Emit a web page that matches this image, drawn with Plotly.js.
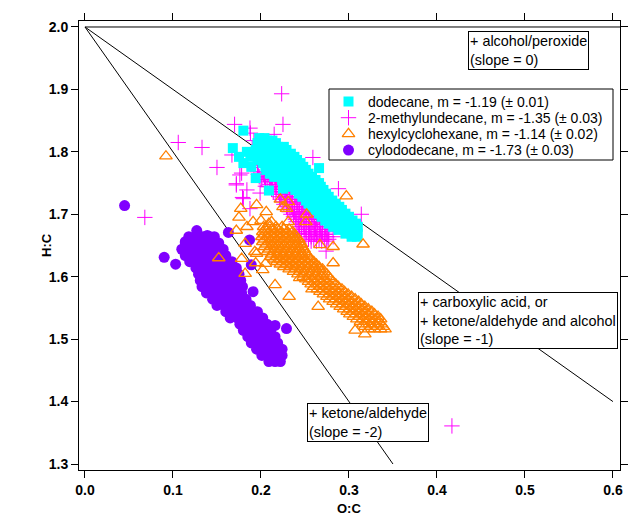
<!DOCTYPE html>
<html>
<head>
<meta charset="utf-8">
<script src="https://cdn.plot.ly/plotly-3.0.1.min.js"></script>
<style>html,body{margin:0;padding:0;background:#fff;}#chart{width:628px;height:519px;}</style>
</head>
<body>
<div id="chart"></div>
<script>
// ---- Data ----
const seriesNames = [
  "dodecane, m = -1.19 (± 0.01)",
  "2-methylundecane, m = -1.35 (± 0.03)",
  "hexylcyclohexane, m = -1.14 (± 0.02)",
  "cylododecane, m = -1.73 (± 0.03)"
];
const seriesColors = ["#00FFFF", "#FF00FF", "#FF8000", "#8000FF"];

const dodecanePts = [
  [0.198,1.822],[0.204,1.822],
  [0.200,1.818],[0.207,1.818],[0.213,1.818],
  [0.196,1.814],[0.203,1.814],[0.210,1.814],[0.217,1.814],
  [0.198,1.808],[0.205,1.808],[0.212,1.808],[0.219,1.808],[0.226,1.808],
  [0.194,1.803],[0.201,1.803],[0.208,1.803],[0.215,1.803],[0.222,1.803],[0.229,1.803],
  [0.199,1.797],[0.206,1.797],[0.213,1.797],[0.220,1.797],[0.227,1.797],[0.234,1.797],
  [0.196,1.792],[0.203,1.792],[0.210,1.792],[0.217,1.792],[0.224,1.792],[0.231,1.792],[0.238,1.792],
  [0.199,1.787],[0.206,1.787],[0.213,1.787],[0.220,1.787],[0.227,1.787],[0.234,1.787],[0.241,1.787],
  [0.202,1.782],[0.209,1.782],[0.216,1.782],[0.223,1.782],[0.230,1.782],[0.237,1.782],[0.245,1.782],
  [0.205,1.776],[0.212,1.776],[0.219,1.776],[0.226,1.776],[0.233,1.776],[0.240,1.776],[0.248,1.776],
  [0.206,1.771],[0.213,1.771],[0.220,1.771],[0.227,1.771],[0.234,1.771],[0.241,1.771],[0.251,1.771],
  [0.210,1.765],[0.217,1.765],[0.224,1.765],[0.231,1.765],[0.238,1.765],[0.245,1.765],[0.254,1.765],
  [0.215,1.760],[0.220,1.760],[0.227,1.760],[0.234,1.760],[0.241,1.760],[0.248,1.760],[0.258,1.760],
  [0.224,1.755],[0.231,1.755],[0.238,1.755],[0.245,1.755],[0.252,1.755],[0.262,1.755],
  [0.228,1.750],[0.235,1.750],[0.242,1.750],[0.249,1.750],[0.256,1.750],[0.266,1.750],
  [0.234,1.744],[0.241,1.744],[0.248,1.744],[0.255,1.744],[0.262,1.744],[0.268,1.744],
  [0.239,1.739],[0.246,1.739],[0.253,1.739],[0.260,1.739],[0.271,1.739],
  [0.243,1.733],[0.250,1.733],[0.257,1.733],[0.264,1.733],[0.274,1.733],
  [0.247,1.728],[0.254,1.728],[0.261,1.728],[0.268,1.728],[0.277,1.728],
  [0.251,1.722],[0.258,1.722],[0.265,1.722],[0.272,1.722],[0.281,1.722],
  [0.254,1.717],[0.261,1.717],[0.268,1.717],[0.275,1.717],[0.285,1.717],
  [0.258,1.712],[0.265,1.712],[0.272,1.712],[0.279,1.712],[0.289,1.712],
  [0.262,1.707],[0.269,1.707],[0.276,1.707],[0.283,1.707],[0.292,1.707],
  [0.266,1.701],[0.273,1.701],[0.280,1.701],[0.287,1.701],[0.296,1.701],
  [0.269,1.696],[0.276,1.696],[0.283,1.696],[0.290,1.696],[0.300,1.696],
  [0.273,1.690],[0.280,1.690],[0.287,1.690],[0.294,1.690],[0.304,1.690],
  [0.277,1.685],[0.284,1.685],[0.291,1.685],[0.298,1.685],[0.308,1.685],
  [0.282,1.680],[0.289,1.680],[0.296,1.680],[0.303,1.680],[0.310,1.680],
  [0.288,1.675],[0.295,1.675],[0.302,1.675],[0.309,1.675],
  [0.296,1.669],[0.303,1.669],[0.310,1.669],
  [0.303,1.664],[0.309,1.664],
  [0.180,1.834],[0.168,1.806],[0.175,1.792],[0.184,1.800],[0.180,1.782],[0.189,1.776],
  [0.194,1.758],[0.209,1.738],[0.266,1.774],[0.225,1.741],[0.188,1.792]
];

const methylundecanePts = [
  [0.196,1.768],[0.202,1.768],
  [0.197,1.764],[0.203,1.764],[0.209,1.764],
  [0.198,1.760],[0.204,1.760],[0.210,1.760],
  [0.201,1.756],[0.207,1.756],[0.213,1.756],[0.219,1.756],
  [0.205,1.752],[0.211,1.752],[0.217,1.752],[0.223,1.752],
  [0.210,1.748],[0.216,1.748],[0.222,1.748],[0.228,1.748],
  [0.216,1.744],[0.222,1.744],[0.228,1.744],[0.234,1.744],
  [0.218,1.740],[0.224,1.740],[0.230,1.740],[0.236,1.740],
  [0.220,1.736],[0.226,1.736],[0.232,1.736],[0.238,1.736],
  [0.223,1.732],[0.229,1.732],[0.235,1.732],[0.241,1.732],
  [0.227,1.728],[0.233,1.728],[0.239,1.728],[0.245,1.728],
  [0.228,1.724],[0.234,1.724],[0.240,1.724],[0.246,1.724],[0.251,1.724],
  [0.230,1.720],[0.236,1.720],[0.242,1.720],[0.248,1.720],[0.254,1.720],
  [0.232,1.716],[0.238,1.716],[0.244,1.716],[0.250,1.716],[0.256,1.716],
  [0.235,1.712],[0.241,1.712],[0.247,1.712],[0.253,1.712],[0.259,1.712],
  [0.236,1.708],[0.242,1.708],[0.248,1.708],[0.254,1.708],[0.260,1.708],
  [0.238,1.704],[0.244,1.704],[0.250,1.704],[0.256,1.704],[0.262,1.704],
  [0.240,1.700],[0.246,1.700],[0.252,1.700],[0.258,1.700],[0.264,1.700],
  [0.243,1.696],[0.249,1.696],[0.255,1.696],[0.261,1.696],[0.267,1.696],
  [0.245,1.692],[0.251,1.692],[0.257,1.692],[0.263,1.692],[0.268,1.692],
  [0.246,1.688],[0.252,1.688],[0.258,1.688],[0.264,1.688],[0.270,1.688],
  [0.248,1.684],[0.254,1.684],[0.260,1.684],[0.266,1.684],[0.272,1.684],
  [0.249,1.680],[0.255,1.680],[0.261,1.680],[0.267,1.680],[0.273,1.680],
  [0.250,1.676],[0.256,1.676],[0.262,1.676],[0.268,1.676],[0.274,1.676],
  [0.252,1.672],[0.258,1.672],[0.264,1.672],[0.270,1.672],[0.276,1.672],
  [0.255,1.668],[0.261,1.668],[0.267,1.668],[0.273,1.668],[0.277,1.668],
  [0.257,1.664],[0.263,1.664],[0.269,1.664],[0.275,1.664],
  [0.260,1.660],[0.266,1.660],[0.272,1.660],[0.277,1.660],
  [0.263,1.657],[0.269,1.657],[0.275,1.657],
  [0.210,1.744],[0.212,1.740],[0.214,1.736],[0.217,1.732],[0.221,1.728],[0.222,1.724],
  [0.224,1.720],[0.226,1.716],[0.229,1.712],[0.230,1.708],[0.232,1.704],[0.234,1.700],
  [0.237,1.696],[0.239,1.692],[0.240,1.688],[0.242,1.684],[0.243,1.680],[0.244,1.676],
  [0.246,1.672],[0.249,1.668],[0.251,1.664],[0.254,1.660],[0.257,1.657],
  [0.188,1.830],[0.192,1.818],[0.190,1.805],[0.195,1.790],[0.192,1.775],[0.185,1.787],
  [0.200,1.755],[0.205,1.745],
  [0.2235,1.893],[0.106,1.815],[0.133,1.807],[0.150,1.775],[0.170,1.844],[0.1875,1.838],
  [0.225,1.844],[0.215,1.828],[0.259,1.791],[0.288,1.741],[0.314,1.700],[0.167,1.795],
  [0.172,1.747],[0.180,1.725],[0.1875,1.709],[0.176,1.763],[0.184,1.739],[0.068,1.695],
  [0.178,1.766],[0.417,1.361],[0.274,1.641],[0.282,1.664],[0.2435,1.669],[0.179,1.727],
  [0.199,1.734],[0.267,1.667],[0.172,1.749]
];

const hexylcyclohexanePts = [
  [0.203,1.680],[0.210,1.680],[0.217,1.680],[0.224,1.680],
  [0.205,1.676],[0.212,1.676],[0.219,1.676],[0.226,1.676],[0.232,1.676],
  [0.202,1.672],[0.209,1.672],[0.216,1.672],[0.223,1.672],[0.230,1.672],[0.236,1.672],
  [0.204,1.668],[0.211,1.668],[0.218,1.668],[0.225,1.668],[0.232,1.668],[0.238,1.668],
  [0.201,1.664],[0.208,1.664],[0.215,1.664],[0.222,1.664],[0.229,1.664],[0.236,1.664],[0.240,1.664],
  [0.204,1.660],[0.211,1.660],[0.218,1.660],[0.225,1.660],[0.232,1.660],[0.239,1.660],[0.243,1.660],
  [0.202,1.656],[0.209,1.656],[0.216,1.656],[0.223,1.656],[0.230,1.656],[0.237,1.656],[0.244,1.656],
  [0.206,1.652],[0.213,1.652],[0.220,1.652],[0.227,1.652],[0.234,1.652],[0.241,1.652],[0.246,1.652],
  [0.204,1.648],[0.211,1.648],[0.218,1.648],[0.225,1.648],[0.232,1.648],[0.239,1.648],[0.247,1.648],
  [0.209,1.644],[0.216,1.644],[0.223,1.644],[0.230,1.644],[0.237,1.644],[0.244,1.644],[0.249,1.644],
  [0.207,1.640],[0.214,1.640],[0.221,1.640],[0.228,1.640],[0.235,1.640],[0.242,1.640],[0.250,1.640],
  [0.212,1.636],[0.219,1.636],[0.226,1.636],[0.233,1.636],[0.240,1.636],[0.247,1.636],[0.252,1.636],
  [0.211,1.632],[0.218,1.632],[0.225,1.632],[0.232,1.632],[0.239,1.632],[0.246,1.632],[0.254,1.632],
  [0.215,1.628],[0.222,1.628],[0.229,1.628],[0.236,1.628],[0.243,1.628],[0.250,1.628],[0.257,1.628],
  [0.218,1.624],[0.225,1.624],[0.232,1.624],[0.239,1.624],[0.246,1.624],[0.253,1.624],[0.260,1.624],
  [0.222,1.620],[0.229,1.620],[0.236,1.620],[0.243,1.620],[0.250,1.620],[0.257,1.620],[0.263,1.620],
  [0.226,1.616],[0.233,1.616],[0.240,1.616],[0.247,1.616],[0.254,1.616],[0.261,1.616],[0.266,1.616],
  [0.232,1.612],[0.239,1.612],[0.246,1.612],[0.253,1.612],[0.260,1.612],[0.267,1.612],[0.270,1.612],
  [0.237,1.608],[0.244,1.608],[0.251,1.608],[0.258,1.608],[0.265,1.608],[0.272,1.608],
  [0.242,1.604],[0.249,1.604],[0.256,1.604],[0.263,1.604],[0.270,1.604],[0.275,1.604],
  [0.248,1.600],[0.255,1.600],[0.262,1.600],[0.269,1.600],[0.277,1.600],
  [0.251,1.596],[0.258,1.596],[0.265,1.596],[0.272,1.596],[0.279,1.596],
  [0.254,1.592],[0.261,1.592],[0.268,1.592],[0.275,1.592],[0.282,1.592],
  [0.257,1.588],[0.264,1.588],[0.271,1.588],[0.278,1.588],[0.285,1.588],
  [0.260,1.584],[0.267,1.584],[0.274,1.584],[0.281,1.584],[0.288,1.584],
  [0.264,1.580],[0.271,1.580],[0.278,1.580],[0.285,1.580],[0.292,1.580],
  [0.267,1.576],[0.274,1.576],[0.281,1.576],[0.288,1.576],[0.295,1.576],
  [0.271,1.572],[0.278,1.572],[0.285,1.572],[0.292,1.572],[0.299,1.572],
  [0.275,1.568],[0.282,1.568],[0.289,1.568],[0.296,1.568],[0.303,1.568],
  [0.278,1.564],[0.285,1.564],[0.292,1.564],[0.299,1.564],[0.307,1.564],
  [0.282,1.560],[0.289,1.560],[0.296,1.560],[0.303,1.560],[0.311,1.560],
  [0.286,1.556],[0.293,1.556],[0.300,1.556],[0.307,1.556],[0.314,1.556],
  [0.290,1.552],[0.297,1.552],[0.304,1.552],[0.311,1.552],[0.318,1.552],
  [0.294,1.548],[0.301,1.548],[0.308,1.548],[0.315,1.548],[0.322,1.548],
  [0.298,1.544],[0.305,1.544],[0.312,1.544],[0.319,1.544],[0.326,1.544],
  [0.301,1.540],[0.308,1.540],[0.315,1.540],[0.322,1.540],[0.329,1.540],
  [0.305,1.536],[0.312,1.536],[0.319,1.536],[0.326,1.536],[0.333,1.536],
  [0.309,1.532],[0.316,1.532],[0.323,1.532],[0.330,1.532],[0.336,1.532],
  [0.313,1.528],[0.320,1.528],[0.327,1.528],[0.334,1.528],
  [0.316,1.524],[0.323,1.524],[0.330,1.524],[0.337,1.524],
  [0.318,1.520],[0.325,1.520],[0.332,1.520],[0.339,1.520],
  [0.322,1.516],[0.329,1.516],[0.336,1.516],[0.341,1.516],
  [0.092,1.793],[0.297,1.729],[0.316,1.652],[0.282,1.648],[0.282,1.622],[0.265,1.552],
  [0.232,1.568],[0.216,1.587],[0.318,1.508],[0.307,1.514],[0.177,1.709],[0.195,1.715],
  [0.206,1.704],[0.175,1.695],[0.191,1.688],[0.184,1.680],[0.172,1.674],[0.182,1.653],
  [0.193,1.640],[0.178,1.629],[0.182,1.605],[0.251,1.688],[0.252,1.700],[0.231,1.720],
  [0.222,1.724],[0.229,1.709],[0.212,1.688],[0.231,1.688],[0.267,1.651],[0.152,1.630],
  [0.195,1.637],[0.205,1.621],[0.225,1.712],[0.194,1.622],[0.202,1.611],[0.244,1.598],
  [0.258,1.580],[0.200,1.690],[0.209,1.685]
];

const cyclododecanePts = [
  [0.118,1.664],[0.126,1.664],[0.134,1.664],[0.142,1.664],[0.147,1.664],
  [0.114,1.654],[0.122,1.654],[0.130,1.654],[0.138,1.654],[0.146,1.654],[0.152,1.654],
  [0.113,1.644],[0.121,1.644],[0.129,1.644],[0.137,1.644],[0.145,1.644],[0.153,1.644],[0.157,1.644],
  [0.114,1.634],[0.122,1.634],[0.130,1.634],[0.138,1.634],[0.146,1.634],[0.154,1.634],[0.160,1.634],
  [0.119,1.624],[0.127,1.624],[0.135,1.624],[0.143,1.624],[0.151,1.624],[0.159,1.624],[0.167,1.624],
  [0.126,1.614],[0.134,1.614],[0.142,1.614],[0.150,1.614],[0.158,1.614],[0.166,1.614],[0.172,1.614],
  [0.129,1.604],[0.137,1.604],[0.145,1.604],[0.153,1.604],[0.161,1.604],[0.169,1.604],[0.175,1.604],
  [0.131,1.594],[0.139,1.594],[0.147,1.594],[0.155,1.594],[0.163,1.594],[0.171,1.594],[0.177,1.594],
  [0.133,1.584],[0.141,1.584],[0.149,1.584],[0.157,1.584],[0.165,1.584],[0.173,1.584],[0.179,1.584],
  [0.138,1.574],[0.146,1.574],[0.154,1.574],[0.162,1.574],[0.170,1.574],[0.178,1.574],
  [0.145,1.564],[0.153,1.564],[0.161,1.564],[0.169,1.564],[0.177,1.564],[0.183,1.564],
  [0.150,1.554],[0.158,1.554],[0.166,1.554],[0.174,1.554],[0.182,1.554],[0.188,1.554],
  [0.160,1.544],[0.168,1.544],[0.176,1.544],[0.184,1.544],[0.192,1.544],[0.196,1.544],
  [0.165,1.534],[0.173,1.534],[0.181,1.534],[0.189,1.534],[0.197,1.534],[0.202,1.534],
  [0.176,1.524],[0.184,1.524],[0.192,1.524],[0.200,1.524],[0.207,1.524],
  [0.180,1.514],[0.188,1.514],[0.196,1.514],[0.204,1.514],[0.211,1.514],
  [0.185,1.504],[0.193,1.504],[0.201,1.504],[0.209,1.504],[0.216,1.504],
  [0.189,1.494],[0.197,1.494],[0.205,1.494],[0.213,1.494],[0.219,1.494],
  [0.195,1.484],[0.203,1.484],[0.211,1.484],[0.219,1.484],[0.224,1.484],
  [0.201,1.474],[0.209,1.474],[0.217,1.474],[0.224,1.474],
  [0.209,1.464],[0.216,1.464],[0.222,1.464],
  [0.045,1.714],[0.090,1.631],[0.103,1.620],[0.127,1.674],[0.139,1.666],[0.163,1.671],
  [0.187,1.659],[0.189,1.619],[0.229,1.517],[0.216,1.522],[0.191,1.576],[0.145,1.657],
  [0.114,1.656],[0.110,1.644]
];

// Reference lines from the (0, 2.0) origin: slope and end O:C
const refSlopes = [0, -1, -2];
const refEndX   = [0.61, 0.6, 0.35];
const refOrigin = [0, 2.0];

const annTexts = [
  "+ alcohol/peroxide<br>(slope = 0)",
  "+ carboxylic acid, or<br>+ ketone/aldehyde and alcohol<br>(slope = -1)",
  "+ ketone/aldehyde<br>(slope = -2)"
];
const annX = [0.504, 0.4926, 0.3216];
const annY = [1.963, 1.5296, 1.3662];

const xTicks = [0.0, 0.1, 0.2, 0.3, 0.4, 0.5, 0.6];
const yTicks = [1.3, 1.4, 1.5, 1.6, 1.7, 1.8, 1.9, 2.0];

// ---- Build ----
const FONT = "Liberation Sans, Arial, Helvetica, sans-serif";
const W = 628, H = 519, ML = 79, MR = 8, MT = 21, MB = 49;
const PL = ML, PR = W - MR, PT = MT, PB = H - MB;      // plot area in pixels
const xs = p => p.map(d => d[0]);
const ys = p => p.map(d => d[1]);
const px2paperX = v => (v - PL) / (PR - PL);
const px2paperY = v => (PB - v) / (PB - PT);

const traces = [];
refSlopes.forEach((m, i) => {
  traces.push({
    x: [refOrigin[0], refEndX[i]],
    y: [refOrigin[1], refOrigin[1] + m * (refEndX[i] - refOrigin[0])],
    mode: "lines", line: {color: "#000", width: 1},
    showlegend: false, hoverinfo: "skip"
  });
});

const markerStyles = [
  {symbol: "square", size: 10, color: seriesColors[0], line: {width: 0}},
  {symbol: "cross-thin", size: 11, color: seriesColors[1], line: {color: seriesColors[1], width: 1}},
  {symbol: "triangle-up-open", size: 11, color: seriesColors[2], line: {color: seriesColors[2], width: 1.3}},
  {symbol: "circle", size: 11, color: seriesColors[3], line: {width: 0}}
];
const seriesPts = [dodecanePts, methylundecanePts, hexylcyclohexanePts, cyclododecanePts];
// drawing order: methylundecane, dodecane, cyclododecane, hexylcyclohexane
[1, 0, 3, 2].forEach(k => {
  traces.push({
    x: xs(seriesPts[k]), y: ys(seriesPts[k]), name: seriesNames[k],
    mode: "markers", type: "scatter", showlegend: false, hoverinfo: "skip",
    marker: markerStyles[k]
  });
});

// Custom legend (compact line spacing like the original)
const legBox = {x0: 329, x1: 613, y0: 89, y1: 160};
const legRowsY = [101.5, 117.7, 133.9, 150.1];
const legMarkX = 348.5, legTextX = 366;
[0, 1, 2, 3].forEach(k => {
  traces.push({
    x: [legMarkX], y: [legRowsY[k]], xaxis: "x2", yaxis: "y2",
    mode: "markers", showlegend: false, hoverinfo: "skip",
    marker: Object.assign({}, markerStyles[k], {size: k === 0 ? 10 : 11})
  });
});

const axisCommon = {
  showline: true, linecolor: "#000", linewidth: 1, mirror: "allticks",
  ticks: "outside", ticklen: 7, tickwidth: 1, tickcolor: "#000",
  showgrid: false, zeroline: false, tickmode: "array", tickformat: ".1f",
  tickfont: {family: FONT, size: 14, color: "#000", weight: "bold"}
};

const annotations = annTexts.map((t, i) => ({
  x: annX[i], y: annY[i], xref: "x", yref: "y", text: t, showarrow: false,
  align: "left", bgcolor: "#fff", bordercolor: "#000", borderwidth: 1, borderpad: 1,
  font: {family: FONT, size: 14.4, color: "#000"}
}));
seriesNames.forEach((n, k) => {
  annotations.push({
    x: px2paperX(legTextX), y: px2paperY(legRowsY[k]), xref: "paper", yref: "paper",
    xanchor: "left", yanchor: "middle", text: n, showarrow: false,
    font: {family: FONT, size: 14, color: "#000"}
  });
});
annotations.push({
  x: px2paperX(46), y: px2paperY(245), xref: "paper", yref: "paper", text: "H:C",
  textangle: -90, showarrow: false, xanchor: "center", yanchor: "middle",
  font: {family: FONT, size: 13, color: "#000", weight: "bold"}
});
annotations.push({
  x: px2paperX(349), y: px2paperY(508), xref: "paper", yref: "paper", text: "O:C",
  showarrow: false, xanchor: "center", yanchor: "middle",
  font: {family: FONT, size: 13, color: "#000", weight: "bold"}
});

const layout = {
  width: W, height: H,
  margin: {l: ML, r: MR, t: MT, b: MB, pad: 0},
  paper_bgcolor: "#fff", plot_bgcolor: "#fff",
  font: {family: FONT, size: 13, color: "#000"},
  showlegend: false,
  xaxis: Object.assign({}, axisCommon, {range: [-0.0068, 0.608], tickvals: xTicks}),
  yaxis: Object.assign({}, axisCommon, {range: [1.2904, 2.0096], tickvals: yTicks}),
  xaxis2: {overlaying: "x", range: [PL, PR], visible: false, fixedrange: true},
  yaxis2: {overlaying: "y", range: [PB, PT], visible: false, fixedrange: true},
  shapes: [{
    type: "rect", xref: "paper", yref: "paper", layer: "below",
    x0: px2paperX(legBox.x0), x1: px2paperX(legBox.x1),
    y0: px2paperY(legBox.y1), y1: px2paperY(legBox.y0),
    line: {color: "#000", width: 1}, fillcolor: "#fff"
  }],
  annotations: annotations
};

Plotly.newPlot("chart", traces, layout, {displayModeBar: false, staticPlot: true});
</script>
</body>
</html>
